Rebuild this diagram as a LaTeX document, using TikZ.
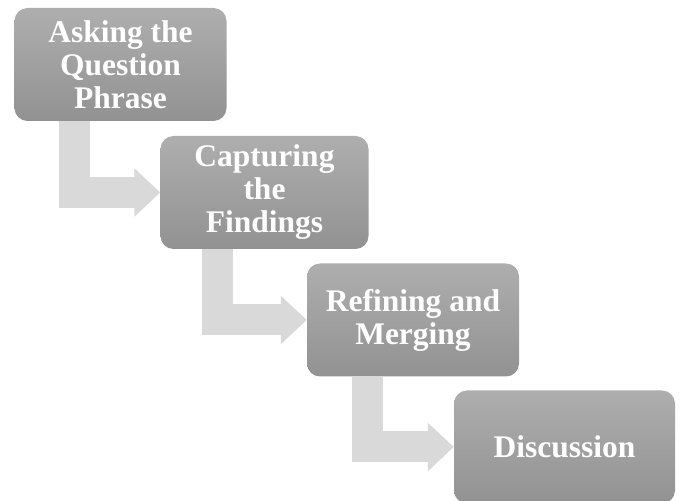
\documentclass[tikz,border=0pt]{standalone}
\usepackage{fontspec}
\setmainfont{Liberation Serif}
\usetikzlibrary{arrows.meta,backgrounds}
\definecolor{boxtop}{RGB}{174,174,174}
\definecolor{boxbottom}{RGB}{146,146,146}
\definecolor{flowcolor}{RGB}{217,217,217}

\begin{document}
\begin{tikzpicture}[x=1pt, y=1pt,
    stage/.style={rectangle, rounded corners=13pt, minimum width=212pt, minimum height=113pt, align=center,
        top color=boxtop, bottom color=boxbottom, text=white, inner sep=0pt,
        font=\fontsize{31.5}{33}\selectfont\bfseries},
    flow/.style={draw=flowcolor, line width=31pt, line join=miter,
        -{Triangle[width=47pt, length=26pt]}},
]
    \useasboundingbox (0,0) rectangle (681,501);

    % Stages
    \node[stage] (ask) at (120.5, 436.5) {Asking the\\Question\\Phrase};
    \node[stage, minimum width=208pt] (capture) at (264.5, 308.5) {Capturing\\the\\Findings};
    \node[stage] (refine) at (413, 181) {Refining and\\Merging};
    \node[stage, minimum width=221pt] (discuss) at (564.5, 54) {Discussion};

    % Arrows
    \begin{scope}[on background layer]
        \draw[flow] ([xshift=60.5pt]ask.south west) |- (capture.west);
        \draw[flow] ([xshift=57pt]capture.south west) |- (refine.west);
        \draw[flow] ([xshift=60.5pt]refine.south west) |- (discuss.west);
    \end{scope}
\end{tikzpicture}
\end{document}
